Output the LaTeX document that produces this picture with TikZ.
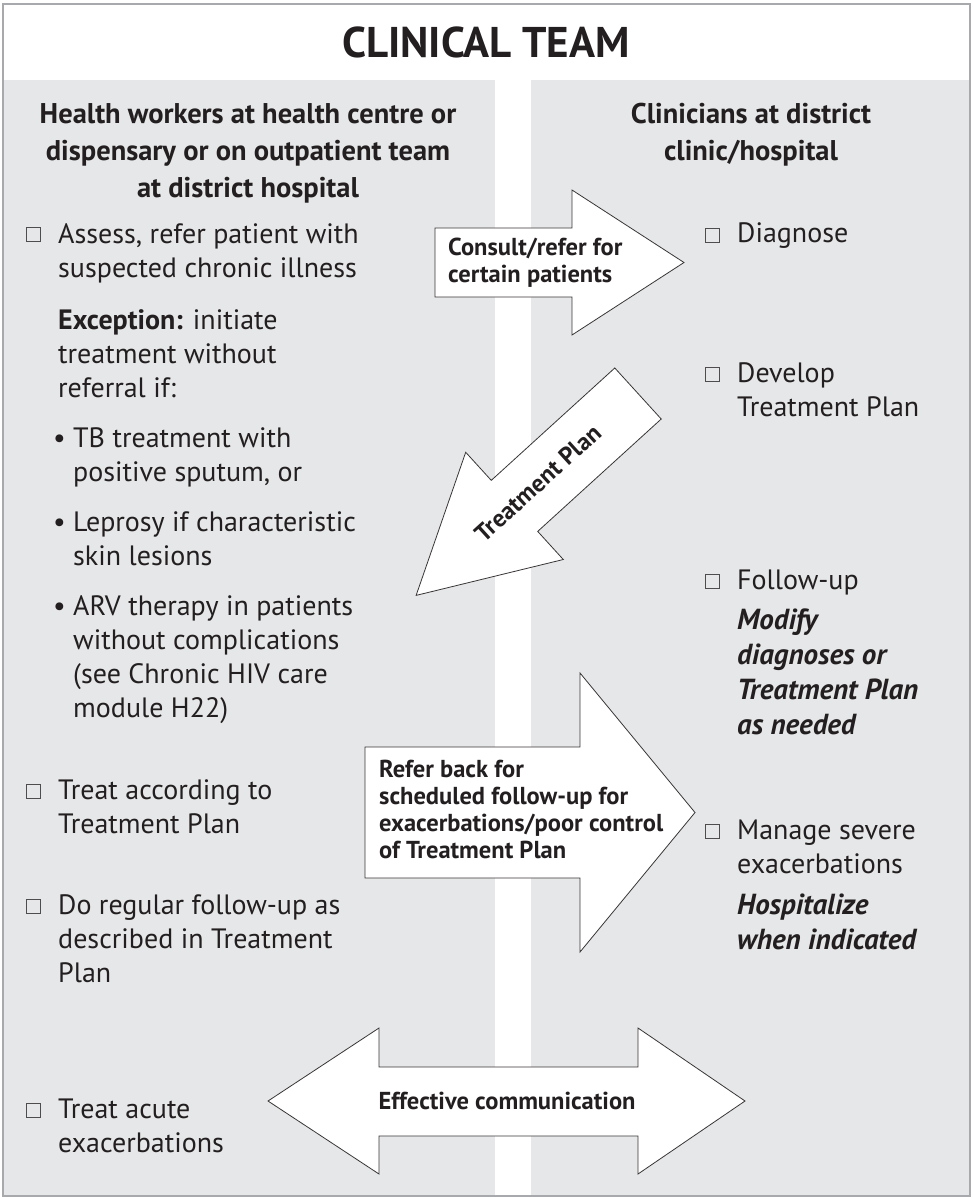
\documentclass[tikz,border=0pt]{standalone}
\usepackage{fontspec}
\setmainfont{PT Sans}
\usetikzlibrary{positioning}

\definecolor{panelgray}{HTML}{E6E7E8}
\definecolor{inkgray}{HTML}{231F20}
\definecolor{framegray}{HTML}{A7A9AC}

% multi-line nodes sit on the baseline of their last line
\tikzset{
  panel/.style={fill=panelgray, draw=none},
  item/.style={anchor=base west, align=left, inner sep=0pt, text=inkgray, font=\fontsize{28}{34}\selectfont},
  itemnote/.style={item, font=\bfseries\itshape\fontsize{29}{35}\selectfont},
  head/.style={anchor=base, align=center, inner sep=0pt, text=inkgray, font=\bfseries\fontsize{28.5}{37}\selectfont},
  tickbox/.style={draw=inkgray!80, line width=0.6pt, minimum size=14pt, inner sep=0pt, anchor=south west},
  blockarrow/.style={draw=inkgray!90, fill=white, line width=0.8pt, line join=miter},
  arrowtext/.style={align=left, inner sep=0pt, text=inkgray, font=\bfseries\fontsize{24.5}{27}\selectfont},
}

\begin{document}
\begin{tikzpicture}[x=1pt, y=-1pt]
    \useasboundingbox (0,0) rectangle (973,1198);
    % frame and the two columns
    \fill[white] (0,0) rectangle (973,1198);
    \fill[panel] (3,80) rectangle (495,1196);
    \fill[panel] (531,80) rectangle (970,1196);
    \draw[framegray, line width=1.2pt] (3,4) rectangle (970,1196);

    \node[anchor=base, inner sep=0pt, text=inkgray, font=\bfseries\fontsize{43}{46}\selectfont] (title) at (486,58) {CLINICAL TEAM};

    \node[head] (lefthead) at (248,198) {Health workers at health centre or\\dispensary or on outpatient team\\at district hospital};
    \node[head] (righthead) at (751,161) {Clinicians at district\\clinic/hospital};

    % left column
    \node[tickbox] (cbassess) at (26,242) {};
    \node[item] (assess) at (58,277) {Assess, refer patient with\\suspected chronic illness};
    \node[item] (except) at (58,397) {\textbf{Exception:} initiate\\treatment without\\referral if:};
    \node[item] (tb) at (73,481) {\llap{\textbullet\ }TB treatment with\\positive sputum, or};
    \node[item] (leprosy) at (73,565) {\llap{\textbullet\ }Leprosy if characteristic\\skin lesions};
    \node[item] (arv) at (73,717) {\llap{\textbullet\ }ARV therapy in patients\\without complications\\(see Chronic HIV care\\module H22)};
    \node[tickbox] (cbtreat) at (26,799) {};
    \node[item] (treat) at (58,833) {Treat according to\\Treatment Plan};
    \node[tickbox] (cbfollow) at (26,914) {};
    \node[item] (regular) at (58,982) {Do regular follow-up as\\described in Treatment\\Plan};
    \node[tickbox] (cbacute) at (26,1118) {};
    \node[item] (acute) at (58,1152) {Treat acute\\exacerbations};

    % right column
    \node[tickbox] (cbdiag) at (705,243) {};
    \node[item] (diagnose) at (737,243) {Diagnose};
    \node[tickbox] (cbplan) at (705,382) {};
    \node[item] (develop) at (737,416) {Develop\\Treatment Plan};
    \node[tickbox] (cbfollowup) at (705,589) {};
    \node[item] (followup) at (737,589) {Follow-up};
    \node[itemnote] (modify) at (737,734) {Modify\\diagnoses or\\Treatment Plan\\as needed};
    \node[tickbox] (cbsevere) at (705,839) {};
    \node[item] (severe) at (737,873) {Manage severe\\exacerbations};
    \node[itemnote] (hosp) at (737,949) {Hospitalize\\when indicated};

    % block arrows
    \draw[blockarrow] (435,228) -- (572,228) -- (572,190) -- (684,262.5) -- (572,335) -- (572,297) -- (435,297) -- cycle;
    \node[arrowtext, anchor=base west] (consult) at (448,282) {Consult/refer for\\certain patients};

    \begin{scope}[shift={(638,393.5)}, rotate=222.3]
        \draw[blockarrow] (0,34.5) -- (167,34.5) -- (167,72.5) -- (300,0) -- (167,-72.5) -- (167,-34.5) -- (0,-34.5) -- cycle;
    \end{scope}
    \node[arrowtext, rotate=42.3] (plan) at (538,483) {Treatment Plan};

    \draw[blockarrow] (365,747) -- (580,747) -- (580,673) -- (695,812.5) -- (580,952) -- (580,878) -- (365,878) -- cycle;
    \node[arrowtext, anchor=base west] (referback) at (379,858) {Refer back for\\scheduled follow-up for\\exacerbations/poor control\\of Treatment Plan};

    \draw[blockarrow] (268,1101) -- (379,1028) -- (379,1067) -- (638,1067) -- (638,1028) -- (745,1101) -- (638,1174) -- (638,1136) -- (379,1136) -- (379,1174) -- cycle;
    \node[arrowtext] (comm) at (507,1101) {Effective communication};
\end{tikzpicture}
\end{document}
